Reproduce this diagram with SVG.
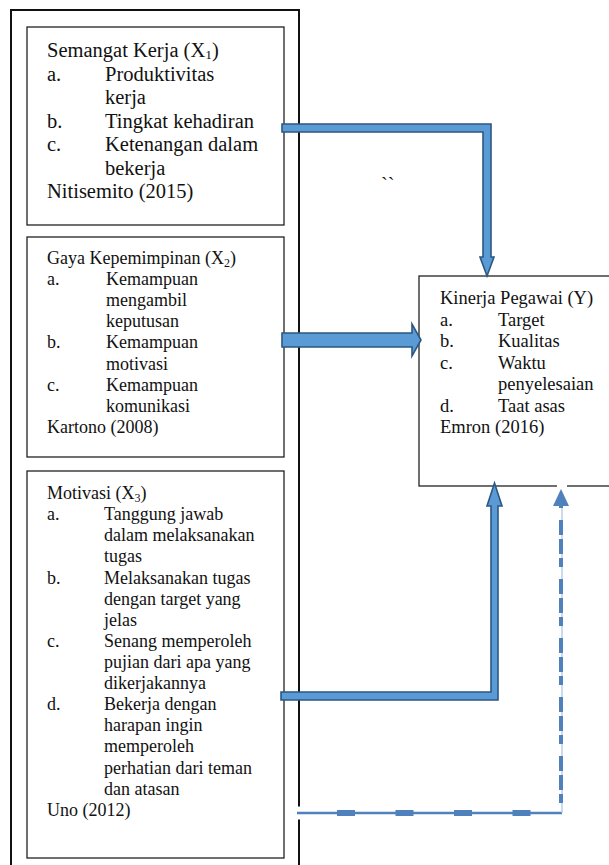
<svg xmlns="http://www.w3.org/2000/svg" width="609" height="865" viewBox="0 0 609 865">
<style>
  text { font-family: "Liberation Serif", "Times New Roman", serif; fill: #111; }
  .f1 { font-size: 20.5px; }
  .f2 { font-size: 18px; }
  .f4 { font-size: 18.5px; }
  .box { fill: #fff; stroke: #222; stroke-width: 1.3; }
  .outer { fill: none; stroke: #111; stroke-width: 2; }
  .blk { fill: #5b9bd5; stroke: #2b5783; stroke-width: 1.6; stroke-linejoin: miter; }
  .halo { stroke: #fff; fill: none; }
</style>
<rect width="609" height="865" fill="#fff"/>
<g id="frame">
  <rect class="outer" x="11" y="10" width="288" height="870"/>
</g>
<g id="x1">
  <rect class="box" x="27" y="27" width="257" height="198"/>
  <text class="f1"><tspan x="47" y="57">Semangat Kerja (X<tspan font-size="13.5" dy="2">1</tspan><tspan dy="-2">)</tspan></tspan></text>
  <text class="f1" x="47" y="80.5">a.</text><text class="f1" x="105" y="80.5">Produktivitas</text>
  <text class="f1" x="105" y="104">kerja</text>
  <text class="f1" x="47" y="127.5">b.</text><text class="f1" x="105" y="127.5">Tingkat kehadiran</text>
  <text class="f1" x="47" y="151">c.</text><text class="f1" x="105" y="151">Ketenangan dalam</text>
  <text class="f1" x="105" y="174.5">bekerja</text>
  <text class="f1" x="47" y="198">Nitisemito (2015)</text>
</g>
<g id="x2">
  <rect class="box" x="27" y="237" width="257" height="220"/>
  <text class="f2"><tspan x="47" y="264">Gaya Kepemimpinan (X<tspan font-size="12" dy="3">2</tspan><tspan dy="-3">)</tspan></tspan></text>
  <text class="f2" x="47" y="285">a.</text><text class="f2" x="106" y="285">Kemampuan</text>
  <text class="f2" x="106" y="306">mengambil</text>
  <text class="f2" x="106" y="327">keputusan</text>
  <text class="f2" x="47" y="348">b.</text><text class="f2" x="106" y="348">Kemampuan</text>
  <text class="f2" x="106" y="370">motivasi</text>
  <text class="f2" x="47" y="391">c.</text><text class="f2" x="106" y="391">Kemampuan</text>
  <text class="f2" x="106" y="412">komunikasi</text>
  <text class="f2" x="47" y="433">Kartono (2008)</text>
</g>
<g id="x3">
  <rect class="box" x="27" y="471" width="257" height="387"/>
  <text class="f2"><tspan x="47" y="499">Motivasi (X<tspan font-size="12" dy="3">3</tspan><tspan dy="-3">)</tspan></tspan></text>
  <text class="f2" x="47" y="520">a.</text><text class="f2" x="104" y="520">Tanggung jawab</text>
  <text class="f2" x="104" y="541">dalam melaksanakan</text>
  <text class="f2" x="104" y="562">tugas</text>
  <text class="f2" x="47" y="583.5">b.</text><text class="f2" x="104" y="583.5">Melaksanakan tugas</text>
  <text class="f2" x="104" y="604.5">dengan target yang</text>
  <text class="f2" x="104" y="625.5">jelas</text>
  <text class="f2" x="47" y="647">c.</text><text class="f2" x="104" y="647">Senang memperoleh</text>
  <text class="f2" x="104" y="668">pujian dari apa yang</text>
  <text class="f2" x="104" y="689">dikerjakannya</text>
  <text class="f2" x="47" y="710">d.</text><text class="f2" x="104" y="710">Bekerja dengan</text>
  <text class="f2" x="104" y="731">harapan ingin</text>
  <text class="f2" x="104" y="752">memperoleh</text>
  <text class="f2" x="104" y="773.5">perhatian dari teman</text>
  <text class="f2" x="104" y="794.5">dan atasan</text>
  <text class="f2" x="47" y="816">Uno (2012)</text>
</g>
<g id="y">
  <rect class="box" x="419" y="276" width="200" height="210"/>
  <text class="f4" x="440" y="304">Kinerja Pegawai (Y)</text>
  <text class="f4" x="440" y="325.5">a.</text><text class="f4" x="498" y="325.5">Target</text>
  <text class="f4" x="440" y="347">b.</text><text class="f4" x="498" y="347">Kualitas</text>
  <text class="f4" x="440" y="368.5">c.</text><text class="f4" x="498" y="368.5">Waktu</text>
  <text class="f4" x="498" y="390">penyelesaian</text>
  <text class="f4" x="440" y="411.5">d.</text><text class="f4" x="498" y="411.5">Taat asas</text>
  <text class="f4" x="440" y="433">Emron (2016)</text>
</g>
<text id="mark" class="f1" x="381" y="192">``</text>
<g id="connectors">
  <path class="blk" d="M282,124 H491 V257 H494 L487,276 L480,257 H483 V132 H282 Z"/>
  <path class="blk" d="M282,333 H412 V324 L421,340 L412,356 V347 H282 Z"/>
  <path class="blk" d="M281,692 H491 V506 H487 L494.5,483 L502,506 H498 V700 H281 Z"/>
  <g id="dashed">
    <path class="halo" stroke-width="13" d="M296,813 H302"/>
    <path class="halo" stroke-width="10" d="M562,483 V490"/>
    <path d="M297,813 H562" stroke="#4f81bd" stroke-width="2.5" fill="none"/>
    <path d="M562,813 V506" stroke="#a9c2e2" stroke-width="1.2" fill="none"/>
    <path d="M337,813 H562" stroke="#4f81bd" stroke-width="6" fill="none" stroke-dasharray="18 40.5"/>
    <path d="M561,803 V506" stroke="#4f81bd" stroke-width="4" fill="none" stroke-dasharray="9 4 15 4 15 12"/>
    <path d="M561,489 L569,506 H553 Z" fill="#4f81bd"/>
  </g>
</g>
</svg>
